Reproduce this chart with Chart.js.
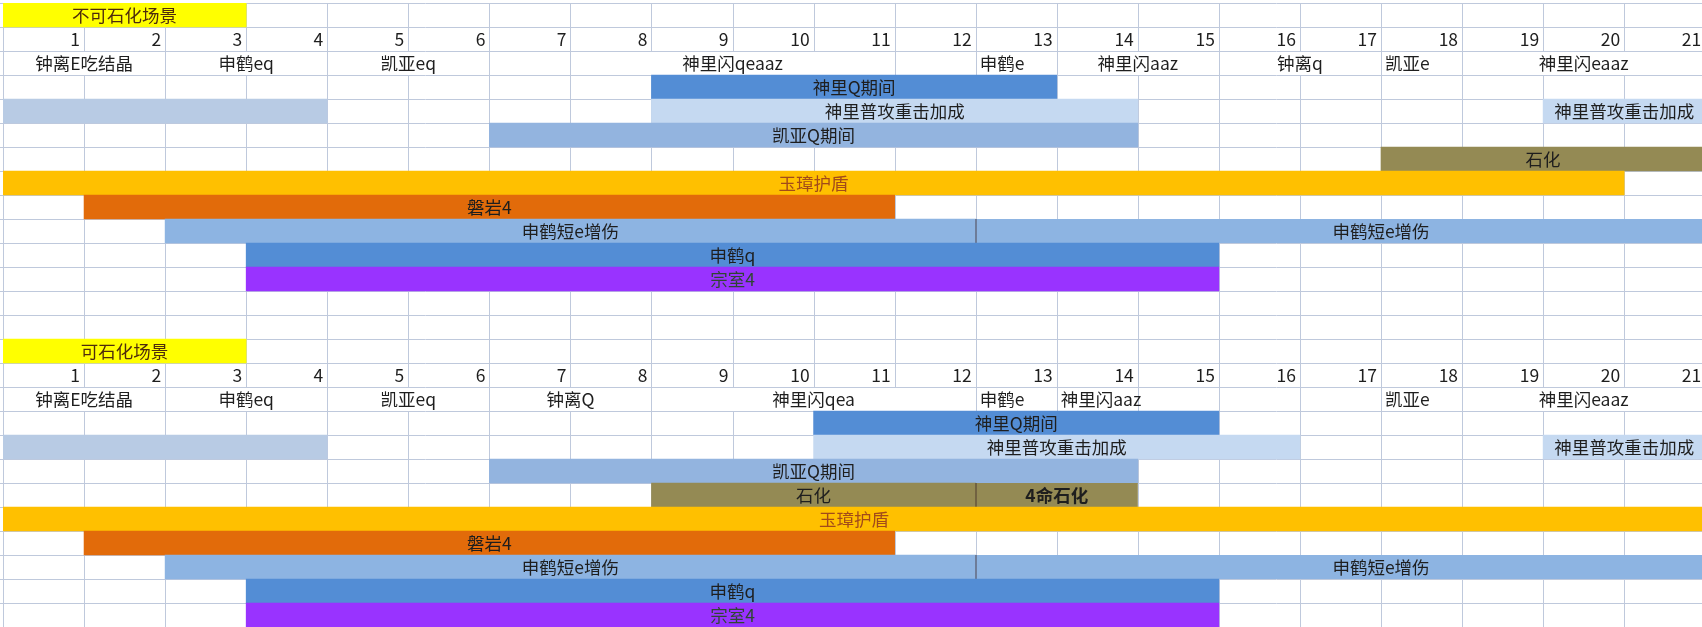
<!DOCTYPE html>
<html lang="zh-CN">
<head>
<meta charset="utf-8">
<title>石化场景时间轴</title>
<script src="https://cdn.jsdelivr.net/npm/chart.js@4.4.1/dist/chart.umd.min.js"></script>
<style>
  html, body { margin: 0; padding: 0; background: #fff; }
  #wrap { width: 1702px; height: 627px; position: relative; overflow: hidden; }
</style>
</head>
<body>
<div id="wrap"><canvas id="timeline"></canvas></div>
<script>
// 时间刻度（每个场景第二行的数字）
const timeTicks = [1, 2, 3, 4, 5, 6, 7, 8, 9, 10, 11, 12, 13, 14, 15, 16, 17, 18, 19, 20, 21];

const scenes = ['不可石化场景', '可石化场景'];

// 每个场景里的条目行（从第4行开始）
const lanes = ['神里Q期间', '神里普攻重击加成', '凯亚Q期间', '石化', '玉璋护盾', '磐岩4', '申鹤短e增伤', '申鹤q', '宗室4'];

// 动作行: [起, 止, 文本, 对齐]
const actionsA = [
    [0, 2, '钟离E吃结晶', 'center'],
    [2, 4, '申鹤eq', 'center'],
    [4, 6, '凯亚eq', 'center'],
    [7, 11, '神里闪qeaaz', 'center'],
    [12, 13, '申鹤e', 'left'],
    [13, 15, '神里闪aaz', 'center'],
    [15, 17, '钟离q', 'center'],
    [17, 18, '凯亚e', 'left'],
    [18, 21, '神里闪eaaz', 'center']
];
const actionsB = [
    [0, 2, '钟离E吃结晶', 'center'],
    [2, 4, '申鹤eq', 'center'],
    [4, 6, '凯亚eq', 'center'],
    [6, 8, '钟离Q', 'center'],
    [8, 12, '神里闪qea', 'center'],
    [12, 13, '申鹤e', 'left'],
    [13, 14, '神里闪aaz', 'left'],
    [17, 18, '凯亚e', 'left'],
    [18, 21, '神里闪eaaz', 'center']
];

// 持续条: [条目, 起, 止, 标签]
const barsA = [
    ['神里Q期间', 8, 13, '神里Q期间'],
    ['神里普攻重击加成', 0, 4, ''],
    ['神里普攻重击加成', 8, 14, '神里普攻重击加成'],
    ['神里普攻重击加成', 19, 21, '神里普攻重击加成'],
    ['凯亚Q期间', 6, 14, '凯亚Q期间'],
    ['石化', 17, 21, '石化'],
    ['玉璋护盾', 0, 20, '玉璋护盾'],
    ['磐岩4', 1, 11, '磐岩4'],
    ['申鹤短e增伤', 2, 12, '申鹤短e增伤'],
    ['申鹤短e增伤', 12, 22, '申鹤短e增伤'],
    ['申鹤q', 3, 15, '申鹤q'],
    ['宗室4', 3, 15, '宗室4']
];
const barsB = [
    ['神里Q期间', 10, 15, '神里Q期间'],
    ['神里普攻重击加成', 0, 4, ''],
    ['神里普攻重击加成', 10, 16, '神里普攻重击加成'],
    ['神里普攻重击加成', 19, 21, '神里普攻重击加成'],
    ['凯亚Q期间', 6, 14, '凯亚Q期间'],
    ['石化', 8, 12, '石化'],
    ['石化', 12, 14, '4命石化'],
    ['玉璋护盾', 0, 21, '玉璋护盾'],
    ['磐岩4', 1, 11, '磐岩4'],
    ['申鹤短e增伤', 2, 12, '申鹤短e增伤'],
    ['申鹤短e增伤', 12, 22, '申鹤短e增伤'],
    ['申鹤q', 3, 15, '申鹤q'],
    ['宗室4', 3, 15, '宗室4']
];

const titleSpan = [0, 3];

// 样式
const laneColors = {
    '神里Q期间': '#538DD5',
    '神里普攻重击加成': '#C5D9F1',
    '凯亚Q期间': '#93B4DF',
    '石化': '#948A54',
    '玉璋护盾': '#FFC000',
    '磐岩4': '#E26B0A',
    '申鹤短e增伤': '#8DB4E2',
    '申鹤q': '#538DD5',
    '宗室4': '#9933FF'
};
const carryColor = '#B8CBE4';
const titleFill = '#FFFF00';
const inkColors = { '玉璋护盾': '#A24B1A', '宗室4': '#2F4733', 'title': '#4E2C0C' };
const boldLabels = ['4命石化'];
const gridColor = '#BFC9DC';
const FONT = '17.5px "Noto Sans CJK SC", "Noto Sans", sans-serif';

const SCENE_ROWS = 14;
const ROW_COUNT = 26;
const X_MAX = 20.96;

const sceneActions = [actionsA, actionsB];
const sceneBars = [barsA, barsB];

const bars = [];
const merges = [];
scenes.forEach((name, s) => {
    const base = s * SCENE_ROWS;
    bars.push({ row: base, from: titleSpan[0], to: titleSpan[1], label: name, fill: titleFill, ink: inkColors.title, sep: false });
    sceneBars[s].forEach(([lane, from, to, label]) => {
        const joined = sceneBars[s].some(o => o[0] === lane && o[2] === from);
        bars.push({
            row: base + 3 + lanes.indexOf(lane),
            from, to, label,
            fill: label ? laneColors[lane] : carryColor,
            ink: inkColors[label] || '#1E1E1E',
            sep: joined
        });
    });
    sceneActions[s].forEach(([from, to]) => {
        if (to - from > 1) merges.push({ row: base + 2, from, to });
    });
});

const gridPlugin = {
    id: 'sheetGrid',
    beforeDatasetsDraw(chart) {
        const { ctx, scales: { x, y } } = chart;
        ctx.save();
        ctx.strokeStyle = gridColor;
        ctx.lineWidth = 1;
        ctx.beginPath();
        for (let r = 0; r <= ROW_COUNT; r++) {
            const py = Math.round(y.getPixelForValue(r)) + 0.5;
            ctx.moveTo(0, py);
            ctx.lineTo(chart.width, py);
        }
        for (let k = 0; k <= timeTicks.length; k++) {
            const px = Math.round(x.getPixelForValue(k)) + 0.5;
            for (let r = 0; r < ROW_COUNT; r++) {
                if (merges.some(m => m.row === r && k > m.from && k < m.to)) continue;
                ctx.moveTo(px, y.getPixelForValue(r));
                ctx.lineTo(px, y.getPixelForValue(r + 1));
            }
        }
        ctx.stroke();
        ctx.restore();
    }
};

const textPlugin = {
    id: 'cellText',
    afterDatasetsDraw(chart) {
        const { ctx, scales: { x, y } } = chart;
        const mid = r => y.getPixelForValue(r + 0.5);
        ctx.save();
        ctx.textBaseline = 'middle';

        bars.forEach(b => {
            if (!b.label) return;
            ctx.font = (boldLabels.includes(b.label) ? 'bold ' : '') + FONT;
            ctx.fillStyle = b.ink;
            ctx.textAlign = 'center';
            ctx.fillText(b.label, x.getPixelForValue((b.from + b.to) / 2), mid(b.row));
        });

        ctx.font = FONT;
        ctx.fillStyle = '#1E1E1E';
        scenes.forEach((name, s) => {
            const base = s * SCENE_ROWS;
            ctx.textAlign = 'right';
            timeTicks.forEach((t, i) => {
                ctx.fillText(String(t), x.getPixelForValue(i + 1) - 4, mid(base + 1));
            });
            sceneActions[s].forEach(([from, to, text, align]) => {
                if (align === 'left') {
                    ctx.textAlign = 'left';
                    ctx.fillText(text, x.getPixelForValue(from) + 4, mid(base + 2));
                } else {
                    ctx.textAlign = 'center';
                    ctx.fillText(text, x.getPixelForValue((from + to) / 2), mid(base + 2));
                }
            });
        });
        ctx.restore();
    }
};

new Chart(document.getElementById('timeline'), {
    type: 'bar',
    data: {
        datasets: [{
            data: bars.map(b => ({ x: [b.from, b.to], y: b.row + 0.5 })),
            backgroundColor: bars.map(b => b.fill),
            borderColor: '#3A2424',
            borderWidth: bars.map(b => b.sep ? { left: 1, top: 0, right: 0, bottom: 0 } : 0),
            borderSkipped: false,
            barPercentage: 1,
            categoryPercentage: 1
        }]
    },
    options: {
        indexAxis: 'y',
        responsive: true,
        maintainAspectRatio: false,
        animation: false,
        layout: { padding: { left: 3, top: 3, right: 0, bottom: 0 } },
        scales: {
            x: { type: 'linear', min: 0, max: X_MAX, display: false, offset: false },
            y: { type: 'linear', min: 0, max: ROW_COUNT, reverse: true, display: false, offset: false, ticks: { stepSize: 1 } }
        },
        plugins: {
            legend: { display: false },
            tooltip: { enabled: false }
        }
    },
    plugins: [gridPlugin, textPlugin]
});
</script>
</body>
</html>
